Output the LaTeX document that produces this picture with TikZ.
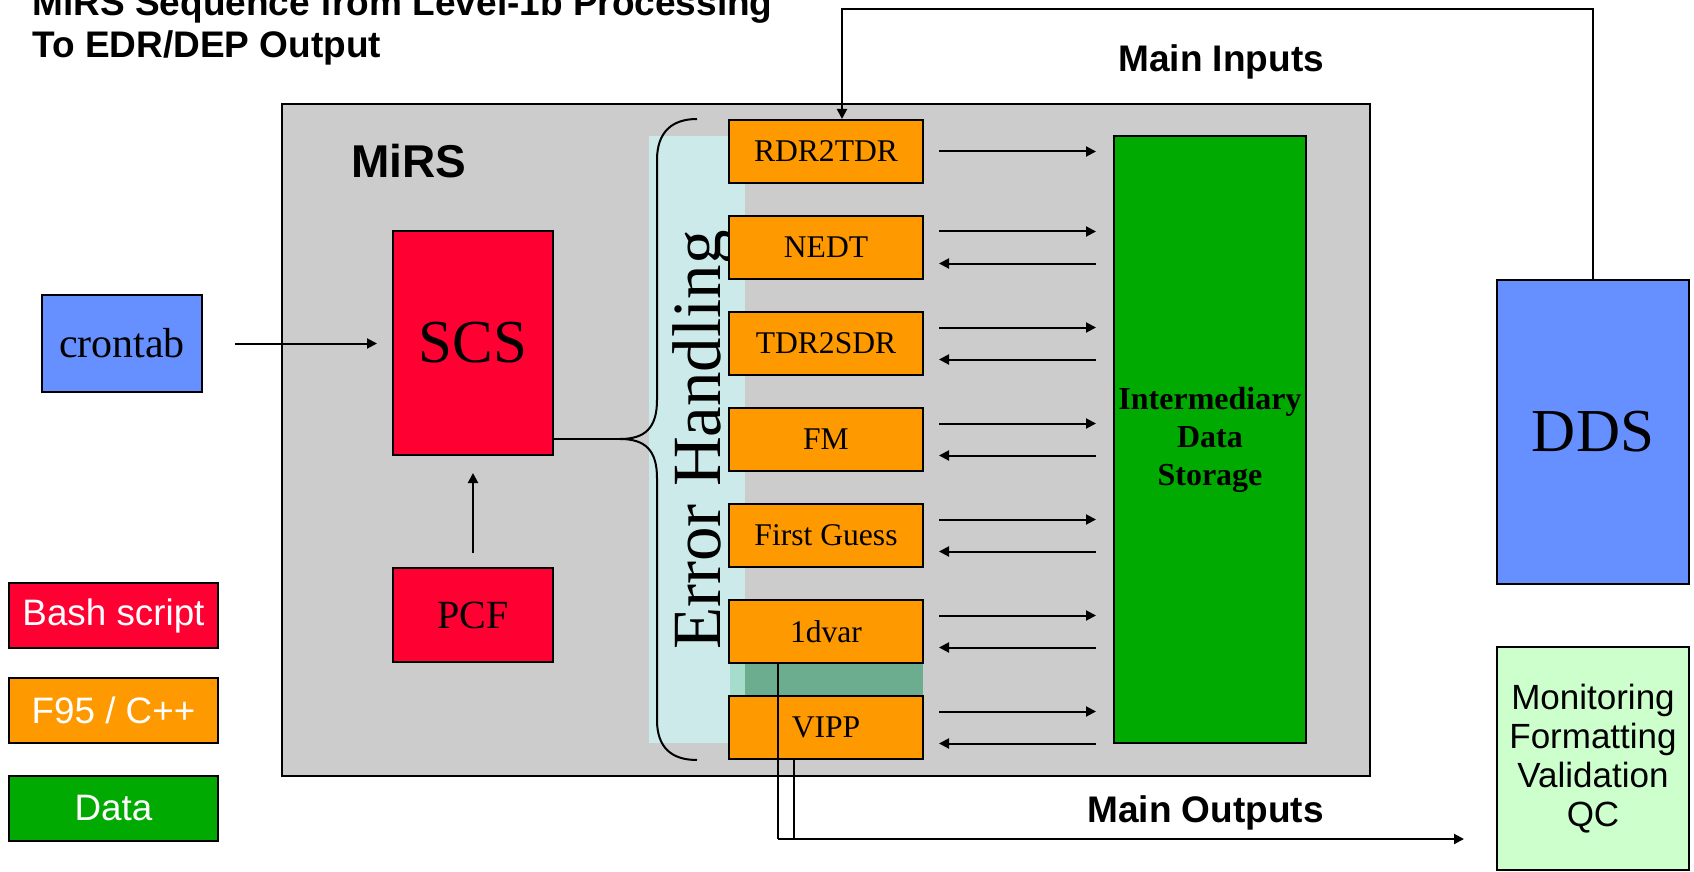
\documentclass[tikz,border=0pt]{standalone}
\usepackage{fontspec}
\setmainfont{Liberation Serif}
\setsansfont{Liberation Sans}
\usetikzlibrary{arrows.meta}
\definecolor{MirsGray}{RGB}{204,204,204}
\definecolor{MirsCyan}{RGB}{204,234,234}
\definecolor{MirsOrange}{RGB}{255,153,0}
\definecolor{MirsRed}{RGB}{255,0,51}
\definecolor{MirsGreen}{RGB}{0,170,0}
\definecolor{MirsBlue}{RGB}{102,144,255}
\definecolor{MirsLight}{RGB}{204,255,204}
\definecolor{MirsBand}{RGB}{109,173,143}
\definecolor{MirsBandC}{RGB}{165,220,204}

\begin{document}
\begin{tikzpicture}[x=0.5pt,y=-0.5pt,
box/.style n args={3}{fill=#1,draw,line width=1pt,inner sep=0pt,minimum width=#2,minimum height=#3},
mod/.style={box={MirsOrange}{97pt}{31.5pt},font=\fontsize{15.8}{19}\selectfont},
leg/.style={text=white,font=\sffamily\fontsize{18.4}{22}\selectfont},
lbl/.style={font=\sffamily\bfseries\fontsize{18.5}{22}\selectfont,anchor=base west,inner sep=0pt},
arr/.style={-{Triangle[length=5pt,width=5pt]},line width=1pt},
ln/.style={line width=1pt}]
\useasboundingbox (0,0) rectangle (1694,872);
\node[lbl] (t1) at (32,16) {MiRS Sequence from Level-1b Processing};
\node[lbl] (t2) at (32,58) {To EDR/DEP Output};
\node[lbl] (min) at (1118,72) {Main Inputs};
\node[lbl] (mout) at (1087,822) {Main Outputs};
% MiRS block
\node[box={MirsGray}{544pt}{336pt},line width=1.2pt] (mirs) at (826,440) {};
\node[lbl,font=\sffamily\bfseries\fontsize{23}{27}\selectfont] (mirslbl) at (351,177) {MiRS};
\fill[MirsCyan] (649,136) rectangle (745,743);
\fill[MirsBand] (730,663) rectangle (923,695);
\fill[MirsBandC] (730,663) rectangle (745,695);
\node[rotate=90,anchor=base,inner sep=0pt,font=\fontsize{34.5}{40}\selectfont] (err) at (720,440) {Error Handling};
\foreach \y/\n/\t in {151.5/rdr/RDR2TDR,247.5/nedt/NEDT,343.5/tdr/TDR2SDR,439.5/fm/FM,535.5/fg/First Guess,631.5/dvar/1dvar,727.5/vipp/VIPP} {
   \node[mod] (\n) at (826,\y) {\t};
}
\node[box={MirsGreen}{96pt}{303.5pt},align=center,font=\bfseries\fontsize{16}{19}\selectfont] (ids) at (1210,439.5) {Intermediary\\Data\\Storage};
\draw[arr,shorten <=7.5pt,shorten >=8.5pt] (rdr.east) -- (rdr.east -| ids.west);
\foreach \n in {nedt,tdr,fm,fg,dvar,vipp} {
   \draw[arr,shorten <=7.5pt,shorten >=8.5pt] ([yshift=8pt]\n.east) -- ([yshift=8pt]\n.east -| ids.west);
   \draw[arr,shorten <=8.5pt,shorten >=7.5pt] ([yshift=-8pt]\n.east -| ids.west) -- ([yshift=-8pt]\n.east);
}
\node[box={MirsRed}{80pt}{112pt},font=\fontsize{30.5}{36}\selectfont] (scs) at (473,343) {SCS};
\node[box={MirsRed}{80pt}{47pt},font=\fontsize{20}{24}\selectfont] (pcf) at (473,615) {PCF};
\node[box={MirsBlue}{80pt}{48.5pt},font=\fontsize{21}{25}\selectfont] (cron) at (122,343.5) {crontab};
\coordinate (tip) at (620,439);
\draw[ln] (697,119) .. controls (672,119) and (657,132) .. (657,160) -- (657,400)
   .. controls (657,428) and (645,439) .. (tip) .. controls (645,439) and (657,450) .. (657,478)
   -- (657,720) .. controls (657,748) and (672,760) .. (697,760);
\draw[ln] (scs.east |- tip) -- (tip);
\draw[arr,shorten <=16pt,shorten >=7.5pt] (cron.east) -- (cron.east -| scs.west);
\draw[arr,shorten <=7pt,shorten >=8.5pt] (pcf.north) -- (scs.south);
% outside
\node[box={MirsBlue}{96pt}{152pt},font=\fontsize{30.5}{36}\selectfont] (dds) at (1593,432) {DDS};
\node[box={MirsLight}{96pt}{111.5pt},align=center,font=\sffamily\fontsize{17.5}{19.5}\selectfont] (mon) at (1593,758.5) {Monitoring\\Formatting\\Validation\\QC};
\coordinate (in) at (842,9);
\draw[arr] (dds.north) |- (in) -- (in |- rdr.north);
\coordinate (o1) at (778,839);
\coordinate (o2) at (794,839);
\draw[ln] (dvar.south -| o1) -- (o1);
\draw[ln] (vipp.south -| o2) -- (o2);
\draw[arr,shorten >=16pt] (o1) -- (o1 -| mon.west);
% legend
\node[box={MirsRed}{104.5pt}{32.5pt},leg] (bash) at (113.5,615.5) {Bash script};
\node[box={MirsOrange}{104.5pt}{32.5pt},leg] (f95) at (113.5,710.5) {F95 / C++};
\node[box={MirsGreen}{104.5pt}{32.5pt},leg] (data) at (113.5,808) {Data};
\end{tikzpicture}
\end{document}
